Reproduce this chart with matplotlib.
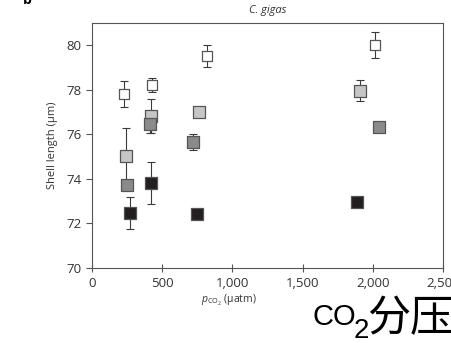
import matplotlib
matplotlib.use("Agg")
import matplotlib.pyplot as plt
from matplotlib.ticker import FuncFormatter

plt.rcParams['font.family'] = ['Open Sans', 'DejaVu Sans']
plt.rcParams['mathtext.fontset'] = 'custom'
plt.rcParams['mathtext.rm'] = 'Open Sans'
plt.rcParams['mathtext.it'] = 'Open Sans:italic'

# four treatment series
white_x = [230, 425, 816, 2015]
white_y = [77.8, 78.2, 79.5, 80.0]
white_err = [0.6, 0.32, 0.48, 0.57]

light_x = [240, 418, 762, 1910]
light_y = [75.0, 76.8, 77.0, 77.95]
light_err = [1.27, 0.76, 0.05, 0.48]

dark_x = [251, 413, 719, 2046]
dark_y = [73.7, 76.45, 75.65, 76.3]
dark_err = [0.05, 0.4, 0.37, 0.2]

black_x = [268, 420, 745, 1890]
black_y = [72.45, 73.8, 72.4, 72.95]
black_err = [0.72, 0.95, 0.08, 0.05]

series = [
    (white_x, white_y, white_err, "#ffffff", 62),
    (light_x, light_y, light_err, "#c6c6c6", 66),
    (dark_x, dark_y, dark_err, "#8a8a8a", 66),
    (black_x, black_y, black_err, "#231f20", 72),
]

fig = plt.figure(figsize=(4.51, 3.43), dpi=100)
ax = fig.add_axes([0.204, 0.219, 0.778, 0.715])

for xs, ys, errs, face, size in series:
    ax.errorbar(xs, ys, yerr=errs, fmt='none', ecolor="#3a3a3a",
                elinewidth=0.8, capsize=3, capthick=0.8, zorder=2)
    ax.scatter(xs, ys, marker='s', s=size, facecolor=face,
               edgecolor="#555555", linewidth=0.9, zorder=3)

ax.set_xlim(0, 2500)
ax.set_ylim(70, 81)
ax.set_xticks([0, 500, 1000, 1500, 2000, 2500])
ax.set_yticks([70, 72, 74, 76, 78, 80])
ax.xaxis.set_major_formatter(FuncFormatter(lambda v, p: f"{int(v):,}"))

for sp in ax.spines.values():
    sp.set_color("#555555")
    sp.set_linewidth(0.8)
ax.tick_params(axis='y', direction='out', length=4, width=0.8,
               color="#555555", labelsize=9.5, labelcolor="#333333")
ax.tick_params(axis='x', direction='inout', length=6, width=0.8,
               color="#555555", labelsize=9.5, labelcolor="#333333")

ax.set_ylabel("Shell length (µm)", fontsize=8, color="#333333", labelpad=6)
ax.set_title("C. gigas", fontsize=8, style='italic', color="#333333", pad=7)

fig.text(0.05, 1.0, "b", fontsize=10, fontweight='bold', ha='left', va='center')
fig.text(0.445, 0.125, r"$p_{\mathrm{CO_2}}$ (µatm)", fontsize=7.5,
         color="#333333", ha='left', va='center')

# big overlay annotation "CO2分压" (CO, subscript 2, Chinese)
big_fam = ['Liberation Sans Narrow', 'Liberation Sans', 'DejaVu Sans']
fig.text(0.694, 0.052, "CO", fontsize=21, color="black",
         ha='left', va='baseline', family=big_fam)
fig.text(0.783, 0.015, "2", fontsize=20, color="black",
         ha='left', va='baseline', family=big_fam)
fig.text(0.814, 0.035, "分压", fontsize=31, color="black",
         ha='left', va='baseline', fontweight='light',
         family=['Noto Sans CJK SC', 'DejaVu Sans'])

fig.savefig("out.png", dpi=100)
